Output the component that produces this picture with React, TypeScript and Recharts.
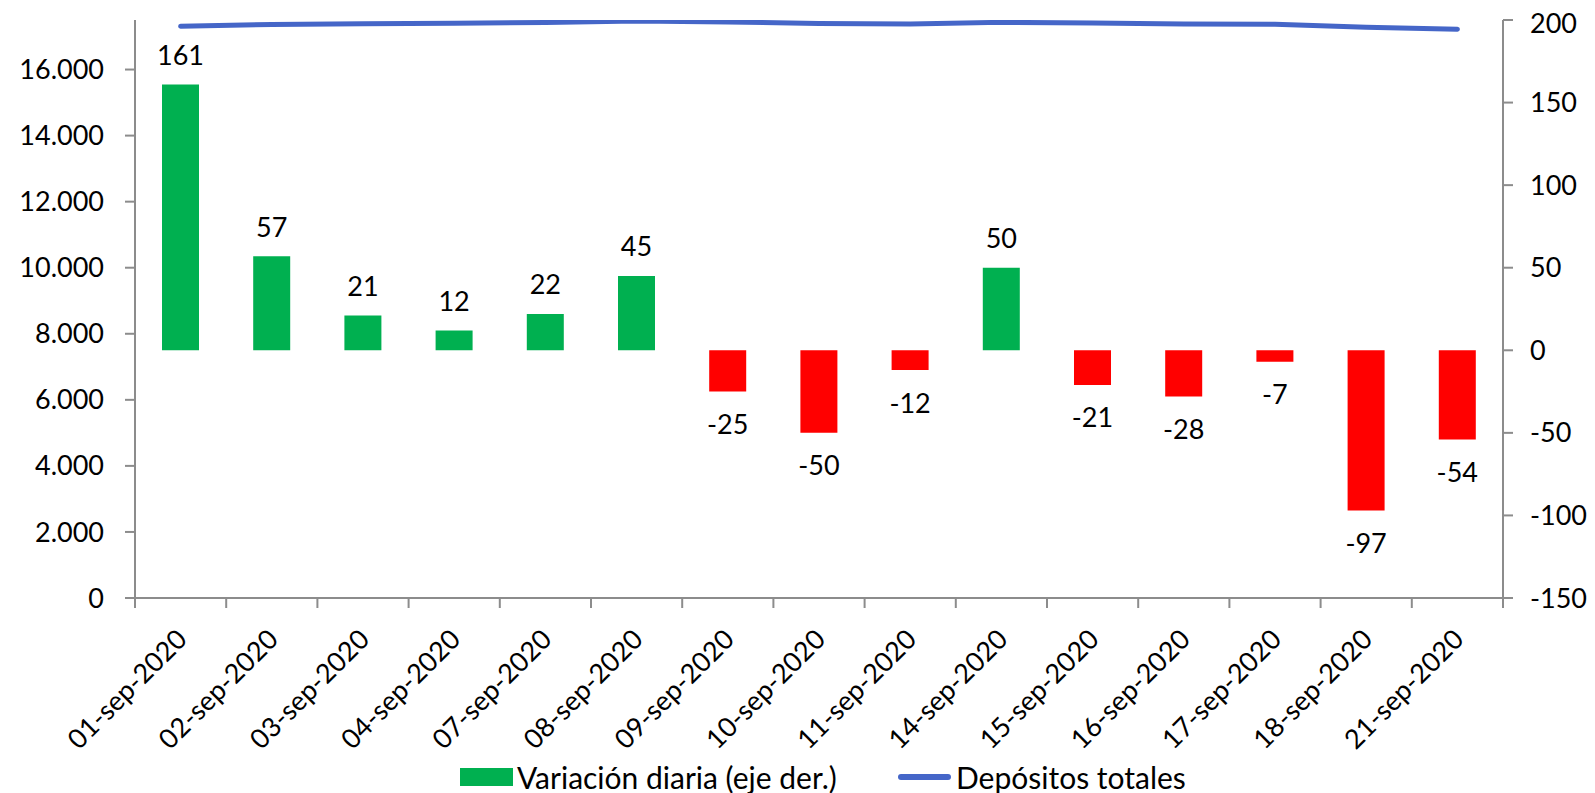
import React from 'react';
import { ComposedChart, Bar, Line, XAxis, YAxis, Cell, LabelList } from 'recharts';

const fechas = ['01-sep-2020', '02-sep-2020', '03-sep-2020', '04-sep-2020', '07-sep-2020', '08-sep-2020', '09-sep-2020', '10-sep-2020', '11-sep-2020', '14-sep-2020', '15-sep-2020', '16-sep-2020', '17-sep-2020', '18-sep-2020', '21-sep-2020'];
const variacion = [161, 57, 21, 12, 22, 45, -25, -50, -12, 50, -21, -28, -7, -97, -54];
const depositos = [17310, 17367, 17388, 17400, 17422, 17467, 17442, 17392, 17380, 17430, 17409, 17381, 17374, 17277, 17223];
const ticksIzq = [0, 2000, 4000, 6000, 8000, 10000, 12000, 14000, 16000];
const ticksDer = [-150, -100, -50, 0, 50, 100, 150, 200];

const data = fechas.map((fecha, i) => ({ fecha, variacion: variacion[i], depositos: depositos[i] }));

const VERDE = '#00B050';
const ROJO = '#FF0000';
const AZUL = '#4566C8';
const GRIS = '#8C8C8C';
const FUENTE = "Lato, 'Open Sans', sans-serif";

const W = 1579;
const H = 785;
const TOP = 12;
const PLOT_H = 578;
const LEFT_W = 127;
const RIGHT_W = 84;
const BAND = (W - LEFT_W - RIGHT_W) / fechas.length;

const miles = (v: number) => String(v).replace(/\B(?=(\d{3})+(?!\d))/g, '.');

// etiquetas de fecha giradas y marcas entre categorías
const FechaTick = (props: any) => {
  const { x, y, payload, index } = props;
  const left = x - BAND / 2;
  const ax = x + 8;
  const ay = y + 43;
  return (
    <g>
      <line x1={left} y1={y} x2={left} y2={y + 10} stroke={GRIS} strokeWidth={2} />
      {index === fechas.length - 1 && (
        <line x1={left + BAND} y1={y} x2={left + BAND} y2={y + 10} stroke={GRIS} strokeWidth={2} />
      )}
      <text x={ax} y={ay} textAnchor="end" transform={`rotate(-45 ${ax} ${ay})`}
        fontFamily={FUENTE} fontSize={27} fill="#000">
        {payload.value}
      </text>
    </g>
  );
};

const ValorLabel = (props: any) => {
  const { x, y, width, height, value } = props;
  const top = Math.min(y, y + height);
  const bottom = Math.max(y, y + height);
  const cy = value >= 0 ? top - 30 : bottom + 32;
  return (
    <text x={x + width / 2} y={cy} textAnchor="middle" dominantBaseline="central"
      fontFamily={FUENTE} fontSize={27} fill="#000">
      {value}
    </text>
  );
};

const leyendaTexto: React.CSSProperties = {
  position: 'absolute', top: 752, lineHeight: '34px', fontFamily: FUENTE, fontSize: 30,
  color: '#000', whiteSpace: 'nowrap'
};

const App: React.FC = () => {
  return <div style={{ position: 'relative', width: W, height: H, background: '#fff' }}>
      <style>{'.recharts-surface { overflow: visible; }'}</style>
      <ComposedChart width={W} height={H} data={data} margin={{ top: TOP, right: 0, left: 0, bottom: 0 }}>
        <XAxis dataKey="fecha" xAxisId="x" height={H - TOP - PLOT_H} tickLine={false} tickSize={0} tickMargin={0}
          tick={<FechaTick />} axisLine={{ stroke: GRIS, strokeWidth: 2 }} interval={0} />
        <YAxis yAxisId="izq" orientation="left" width={LEFT_W} domain={[0, 17500]} ticks={ticksIzq}
          tickFormatter={miles} tickSize={10} tickMargin={21} allowDataOverflow
          axisLine={{ stroke: GRIS, strokeWidth: 2 }} tickLine={{ stroke: GRIS, strokeWidth: 2 }}
          tick={{ fontFamily: FUENTE, fontSize: 27, fill: '#000' }} />
        <YAxis yAxisId="der" orientation="right" width={RIGHT_W} domain={[-150, 200]} ticks={ticksDer}
          tickSize={10} tickMargin={17} allowDataOverflow
          axisLine={{ stroke: GRIS, strokeWidth: 2 }} tickLine={{ stroke: GRIS, strokeWidth: 2 }}
          tick={{ fontFamily: FUENTE, fontSize: 27, fill: '#000' }} />
        <Bar dataKey="variacion" xAxisId="x" yAxisId="der" barSize={37} isAnimationActive={false}>
          {variacion.map((v, i) => <Cell key={`cell-${i}`} fill={v >= 0 ? VERDE : ROJO} />)}
          <LabelList dataKey="variacion" content={<ValorLabel />} />
        </Bar>
        <Line dataKey="depositos" xAxisId="x" yAxisId="izq" type="linear" stroke={AZUL} strokeWidth={5}
          strokeLinecap="round" dot={false} activeDot={false} isAnimationActive={false} />
      </ComposedChart>
      <span style={{ position: 'absolute', left: 452, top: 760, width: 53, height: 18, background: VERDE }} />
      <span style={{ ...leyendaTexto, left: 509 }}>Variación diaria (eje der.)</span>
      <span style={{ position: 'absolute', left: 890, top: 766, width: 53, height: 6, borderRadius: 3, background: AZUL }} />
      <span style={{ ...leyendaTexto, left: 948 }}>Depósitos totales</span>
    </div>;
};

export default App;
